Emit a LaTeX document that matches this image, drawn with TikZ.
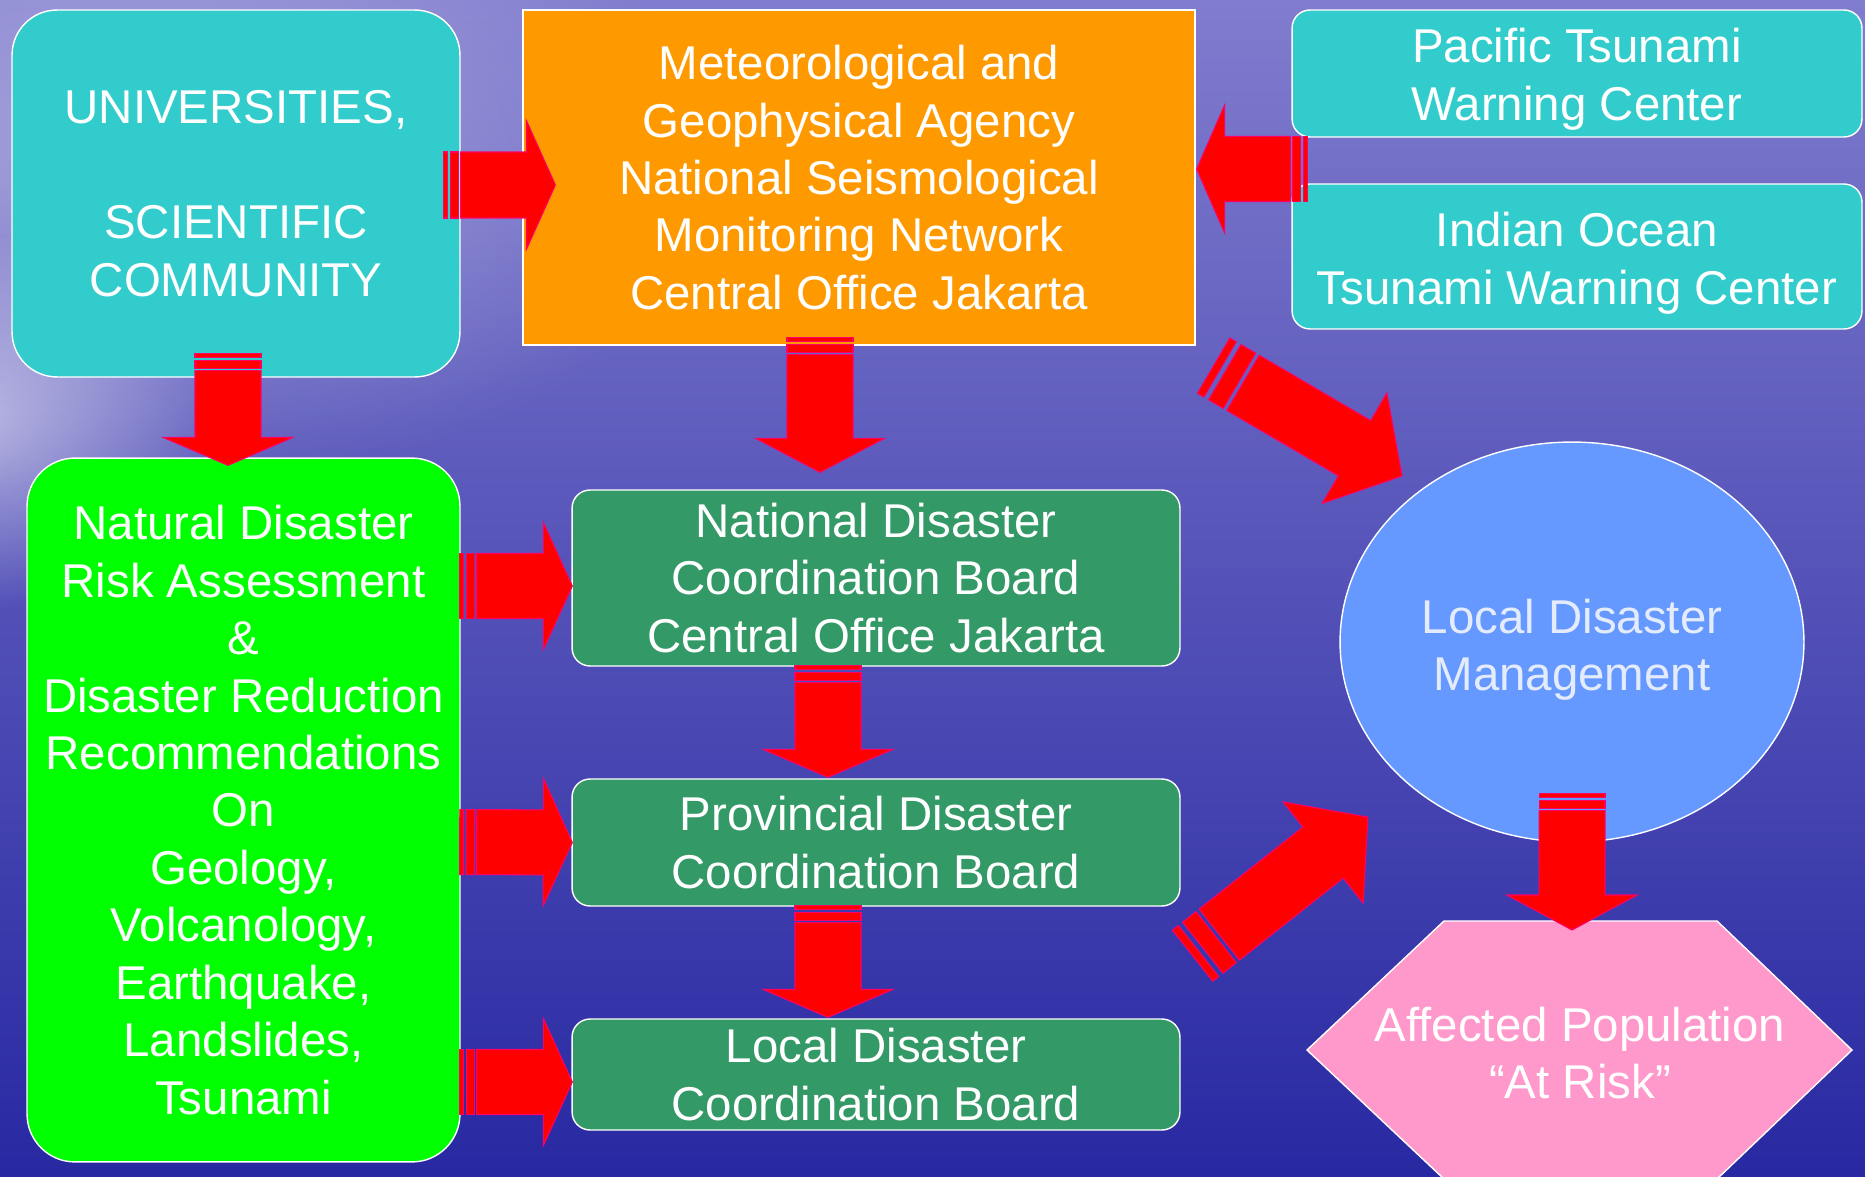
\documentclass[tikz,border=0pt]{standalone}
\usepackage{fontspec}
\setmainfont{Liberation Sans}
\usepackage{tikz}
\usetikzlibrary{calc}
\usetikzlibrary{shapes.geometric}
\usetikzlibrary{fadings}
\definecolor{bgtop}{RGB}{128,124,206}
\definecolor{bgmid}{RGB}{64,64,182}
\definecolor{bgbot}{RGB}{40,40,162}
\definecolor{cyanbox}{RGB}{51,204,204}
\definecolor{orangebox}{RGB}{255,153,0}
\definecolor{limebox}{RGB}{0,255,0}
\definecolor{seagreen}{RGB}{51,153,102}
\definecolor{skyell}{RGB}{102,153,255}
\definecolor{pinkhex}{RGB}{255,153,204}
\definecolor{ltext}{RGB}{228,236,252}
\definecolor{arrowred}{RGB}{255,0,0}
\definecolor{arrowedge}{RGB}{255,0,102}
\tikzfading[name=softglow, inner color=transparent!0, outer color=transparent!100]

% #1 tail, #2 tip, #3 body width, #4 head width, #5 head length, #6 stripe length (all in px)
\newcommand\stripearrow[6]{%
  \path (#1) coordinate (sa-a) (#2) coordinate (sa-b);
  \pgfpointdiff{\pgfpointanchor{sa-a}{center}}{\pgfpointanchor{sa-b}{center}}%
  \pgfgetlastxy\sadx\sady
  \pgfmathsetmacro\salen{veclen(\sadx,\sady)}%
  \pgfmathsetmacro\saang{atan2(\sady,\sadx)}%
  \pgfmathsetmacro\sabw{#3*0.569055/2}%
  \pgfmathsetmacro\sahw{#4*0.569055/2}%
  \pgfmathsetmacro\sahl{\salen-#5*0.569055}%
  \pgfmathsetmacro\sas{#6*0.569055}%
  \begin{scope}[shift={(sa-a)},rotate=\saang,x=1pt,y=1pt]
    \draw[redarrow] (\sas,-\sabw) -- (\sahl,-\sabw) -- (\sahl,-\sahw) -- (\salen,0)
      -- (\sahl,\sahw) -- (\sahl,\sabw) -- (\sas,\sabw) -- cycle;
    \draw[redarrow] (0,-\sabw) rectangle (0.22*\sas,\sabw);
    \draw[redarrow] (0.38*\sas,-\sabw) rectangle (0.88*\sas,\sabw);
  \end{scope}}

\begin{document}
\begin{tikzpicture}[x=0.02cm,y=-0.02cm,
  box/.style={draw=white, line width=0.8pt, text=white, align=center, inner sep=0pt,
    font=\fontsize{27}{32.7}\selectfont},
  redarrow/.style={fill=arrowred, draw=arrowedge, line width=0.6pt}] % px units, y downwards
	\clip (0,0) rectangle (1865,1176);
	\shade[top color=bgtop, middle color=bgmid, bottom color=bgbot] (0,0) rectangle (1865,1176);
	\fill[white, opacity=0.35, path fading=softglow] (120,160) ellipse (620 and 330);
	\fill[white, opacity=0.55, path fading=softglow] (-40,420) ellipse (260 and 190);

	\node[box, fill=cyanbox, rounded corners=0.9cm, minimum width=8.96cm, minimum height=7.34cm] (univ) at (236,193.5) {UNIVERSITIES,\\\mbox{}\\SCIENTIFIC\\COMMUNITY};
	\node[box, fill=orangebox, minimum width=13.44cm, minimum height=6.7cm] (met) at (859,177.5) {Meteorological and\\Geophysical Agency\\National Seismological\\Monitoring Network\\Central Office Jakarta};
	\node[box, fill=cyanbox, rounded corners=0.36cm, minimum width=11.4cm, minimum height=2.54cm, text height=59pt] (pac) at (1577,73.5) {Pacific Tsunami\\Warning Center};
	\node[box, fill=cyanbox, rounded corners=0.36cm, minimum width=11.4cm, minimum height=2.9cm, text height=59.7pt] (ind) at (1577,256.5) {Indian Ocean\\Tsunami Warning Center};

	\node[box, fill=limebox, rounded corners=0.96cm, minimum width=8.66cm, minimum height=14.08cm] (risk) at (243.5,810) {Natural Disaster\\Risk Assessment\\\&\\Disaster Reduction\\Recommendations\\On\\Geology,\\Volcanology,\\Earthquake,\\Landslides,\\Tsunami};
	\node[box, fill=seagreen, rounded corners=0.36cm, minimum width=12.16cm, minimum height=3.52cm] (nat) at (876,578) {National Disaster\\Coordination Board\\Central Office Jakarta};
	\node[box, fill=seagreen, rounded corners=0.36cm, minimum width=12.16cm, minimum height=2.54cm] (prov) at (876,842.5) {Provincial Disaster\\Coordination Board};
	\node[box, fill=seagreen, rounded corners=0.36cm, minimum width=12.16cm, minimum height=2.22cm] (loc) at (876,1074.5) {Local Disaster\\Coordination Board};

	\node[box, ellipse, fill=skyell, text=ltext, minimum width=9.28cm, minimum height=8cm, text height=61pt] (ell) at (1572,642) {Local Disaster\\Management};
	\coordinate (popc) at (1580,1050);
	\draw[draw=white, line width=0.8pt, fill=pinkhex] ($(popc)+(-273,0)$) -- ($(popc)+(-136,-129)$) -- ($(popc)+(137,-129)$)
		-- ($(popc)+(272,0)$) -- ($(popc)+(137,129)$) -- ($(popc)+(-136,129)$) -- cycle;
	\node[box, draw=none] (pop) at ($(popc)+(0,3)$) {Affected Population\\“At Risk”};

	\stripearrow{$(univ.east)+(-17,-8.5)$}{$(met.west)+(33,7.5)$}{66}{129}{29}{17}
	\stripearrow{$(pac.west)!0.5!(ind.west)+(16,4)$}{$(met.east)+(1,-8.5)$}{65}{128}{28}{17}
	\stripearrow{$(univ.south)+(-8,-24)$}{$(risk.north)+(-15.5,8)$}{66}{130}{28}{17}
	\stripearrow{$(met.south)+(-39,-8)$}{$(nat.north)+(-56,-17)$}{66}{129}{34}{17}
	\stripearrow{$(nat.south)+(-48,-1)$}{$(prov.north)+(-48,-1)$}{66}{130}{28}{17}
	\stripearrow{$(prov.south)+(-48,-1)$}{$(loc.north)+(-48,-1)$}{66}{130}{28}{17}
	\stripearrow{$(risk.east)+(-1,-224)$}{$(nat.west)+(1,8)$}{65}{127}{29}{17}
	\stripearrow{$(risk.east)+(-1,32)$}{$(prov.west)+(1,0)$}{65}{127}{29}{17}
	\stripearrow{$(risk.east)+(-1,272)$}{$(loc.west)+(1,7.5)$}{65}{127}{29}{17}
	\stripearrow{$(met.south east)+(18,20)$}{$(ell.center)+(-170,-166)$}{64}{128}{55}{34}
	\stripearrow{$(prov.south east)+(12,49)$}{$(ell.center)+(-204,175)$}{65}{129}{57}{34}
	\stripearrow{$(ell.south)+(0,-49)$}{$(pop)+(-8,-123)$}{66}{130}{35}{17}
\end{tikzpicture}
\end{document}
